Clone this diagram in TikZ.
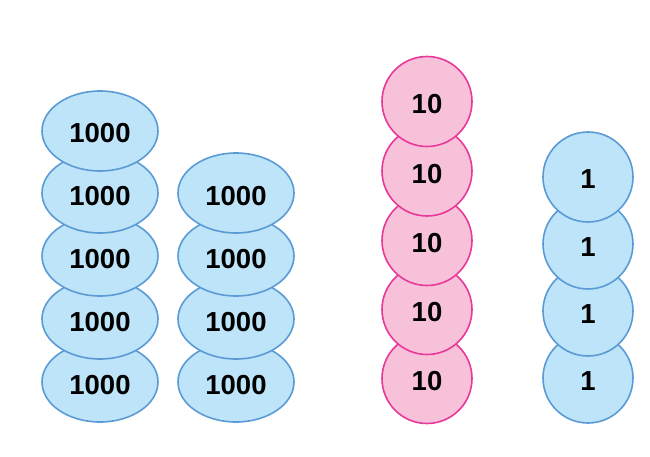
\documentclass[tikz,border=0pt]{standalone}
\usepackage{fontspec}
\setmainfont{Liberation Sans}
\usetikzlibrary{shapes.geometric}
\definecolor{bfill}{HTML}{BDE4F8}
\definecolor{bline}{HTML}{5B9BD5}
\definecolor{pfill}{HTML}{F7C2D9}
\definecolor{pline}{HTML}{E8399A}
\begin{document}
\begin{tikzpicture}[x=1pt,y=-1pt,
  coinbase/.style={line width=1.6pt,inner sep=0pt,text height=24pt,text depth=0pt,font=\fontsize{27.5}{27.5}\selectfont\bfseries},
  big/.style={coinbase,ellipse,draw=bline,fill=bfill,minimum width=116pt,minimum height=80pt},
  ten/.style={coinbase,circle,draw=pline,fill=pfill,minimum size=90pt},
  one/.style={coinbase,circle,draw=bline,fill=bfill,minimum size=90pt}]
\useasboundingbox (0,0) rectangle (650,457);
% left column (bottom to top)
\node[big] (a5) at (100,382) {1000};
\node[big] (a4) at (100,319) {1000};
\node[big] (a3) at (100,256) {1000};
\node[big] (a2) at (100,193) {1000};
\node[big] (a1) at (100,131) {1000};
% second column
\node[big] (b4) at (236,382) {1000};
\node[big] (b3) at (236,319) {1000};
\node[big] (b2) at (236,256) {1000};
\node[big] (b1) at (236,193) {1000};
% tens
\node[ten] (t5) at (427,378.5) {10};
\node[ten] (t4) at (427,309.5) {10};
\node[ten] (t3) at (427,240.5) {10};
\node[ten] (t2) at (427,171) {10};
\node[ten] (t1) at (427,101.5) {10};
% ones
\node[one] (o4) at (588,378) {1};
\node[one] (o3) at (588,311) {1};
\node[one] (o2) at (588,244) {1};
\node[one] (o1) at (588,177) {1};
\end{tikzpicture}
\end{document}
